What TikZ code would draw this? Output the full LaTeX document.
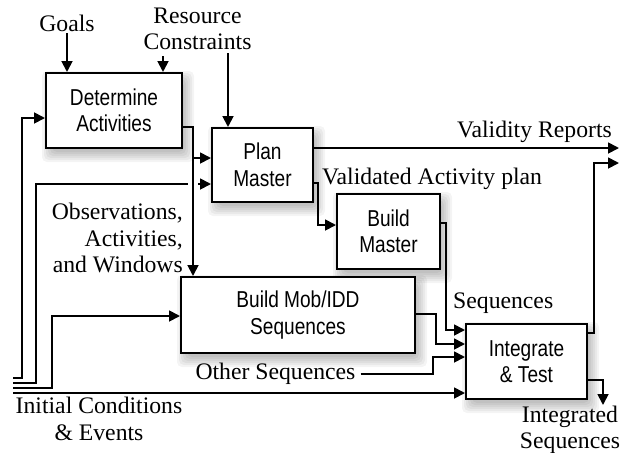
\documentclass[tikz,border=0pt]{standalone}
\usepackage{fontspec}
\setmainfont{Liberation Serif}
\newfontfamily\boxfont[FakeStretch=0.83]{Liberation Sans}
\usetikzlibrary{arrows.meta,calc}
\pgfdeclarelayer{bglayer}
\pgfdeclarelayer{shadowlayer}
\pgfsetlayers{bglayer,shadowlayer,main}
\begin{document}
\begin{tikzpicture}[x=1pt,y=-1pt,
  box/.style={draw, line width=2pt, fill=white, align=center, inner sep=0pt,
    font=\boxfont\fontsize{23}{26.5}\selectfont},
  lbl/.style={inner sep=0pt, font=\fontsize{23.7}{26.5}\selectfont},
  ln/.style={line width=1.8pt},
  shadowpiece/.style={fill=black, opacity=0.045, rounded corners=5pt},
  arr/.style={line width=1.8pt, -{Triangle[length=11pt,width=11pt]}}]
\begin{pgfonlayer}{bglayer}
\fill[white] (0,0) rectangle (633,453);
\end{pgfonlayer}
\useasboundingbox (0,0) rectangle (633,453);

% boxes
\node[box, minimum width=136pt, minimum height=75pt] (DA) at (114,110.5) {Determine\\Activities};
\node[box, minimum width=101pt, minimum height=74pt] (PM) at (262.5,165) {Plan\\Master};
\node[box, minimum width=103pt, minimum height=75pt] (BM) at (388.5,231.5) {Build\\Master};
\node[box, minimum width=234pt, minimum height=76pt] (BS) at (298,315) {Build Mob/IDD\\Sequences};
\node[box, minimum width=121pt, minimum height=75pt] (IT) at (526.5,361.5) {Integrate\\\& Test};

% soft shadows
\begin{pgfonlayer}{shadowlayer}
\foreach \n in {DA,PM,BM,BS,IT}{
  \foreach \e in {-3,-1,...,7}{
    \fill[shadowpiece] ($(\n.north west)+(4-\e,6-\e)$) rectangle ($(\n.south east)+(4+\e,6+\e)$);
  }
}
\end{pgfonlayer}

% labels
\node[lbl, anchor=base] (goals) at (67,31) {Goals};
\node[lbl, align=center] (RC) at (197.5,29) {Resource\\Constraints};
\node[lbl, align=right, anchor=east] (obs) at (183,238) {Observations,\\Activities,\\and Windows};
\node[lbl, align=center] (ic) at (99,419) {Initial Conditions\\\& Events};
\node[lbl] (os) at (275.5,374) {Other Sequences};
\node[lbl, anchor=base west] (seq) at (453,308) {Sequences};
\node[lbl, anchor=base east] (vr) at (612,137) {Validity Reports};
\node[lbl, anchor=base west] (vap) at (322,184) {Validated Activity plan};
\node[lbl, align=center] (isq) at (570,430) {Integrated\\Sequences};

% free ends
\coordinate (in1) at (13,378);
\coordinate (in2) at (13,383);
\coordinate (in3) at (13,388);
\coordinate (in4) at (13,393);
\coordinate (j1) at (193,158);
\coordinate (outvr) at (619,148);
\coordinate (outit) at (619,163);
\coordinate (outis) at (603,405);

% inputs from top
\draw[arr] (goals.south |- 0,33) -- (DA.north -| goals.south);
\draw[arr] (163,56) -- (DA.north -| 163,0);
\draw[arr] (228,53) -- (PM.north -| 228,0);

% left inputs
\draw[arr] (in1) -| (22,118) -- (DA.west |- 0,118);
\draw[ln] (in2) -| (36,184) -- (188,184);
\draw[arr] (198,184) -- (PM.west |- 0,184);
\draw[arr] (in3) -| (52,316) -- (BS.west |- 0,316);
\draw[arr] (in4) -- (IT.west |- in4);

% Determine Activities outputs
\draw[arr] (DA.east |- 0,127) -| (BS.north -| 193,0);
\draw[arr] (j1) -- (PM.west |- j1);

% Plan Master outputs
\draw[arr] (PM.east |- 0,148) -- (outvr);
\draw[arr] (PM.east |- 0,183) -- (318,183) |- (BM.west |- 0,225);

% into Integrate & Test
\draw[arr] (BM.east |- 0,223) -- (446,223) |- (IT.west |- 0,330);
\draw[arr] (BS.east |- 0,314) -- (436,314) |- (IT.west |- 0,344);
\draw[arr] (os.east) ++(5,0) -- (433,374) |- (IT.west |- 0,357);

% Integrate & Test outputs
\draw[arr] (IT.east |- 0,333) -- (594,333) |- (outit);
\draw[arr] (IT.east |- 0,380) -| (outis);
\end{tikzpicture}
\end{document}
